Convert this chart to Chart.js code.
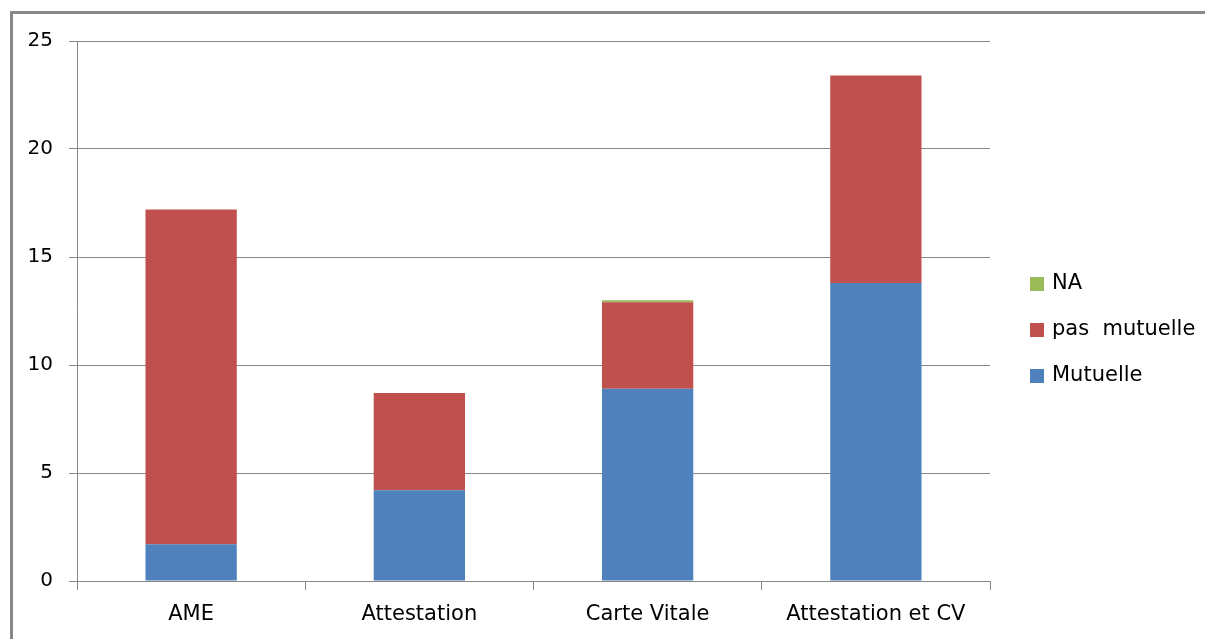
<!DOCTYPE html>
<html>
<head>
<meta charset="utf-8">
<script src="https://cdn.jsdelivr.net/npm/chart.js@4/dist/chart.umd.min.js"></script>
<style>
  body { margin: 0; background: #fff; }
  #wrap { position: relative; width: 1205px; height: 639px; overflow: hidden; }
  #frame { position: absolute; left: 10px; top: 11px; width: 1300px; height: 700px; border: 3px solid #878787; box-sizing: border-box; }
  canvas { position: absolute; left: 0; top: 0; }
</style>
</head>
<body>
<div id="wrap">
  <div id="frame"></div>
  <canvas id="chart" width="1205" height="639"></canvas>
</div>
<script>
const categories = ["AME", "Attestation", "Carte Vitale", "Attestation et CV"];
const mutuelle = [1.7, 4.2, 8.9, 13.8];
const pasMutuelle = [15.5, 4.5, 4.0, 9.6];
const na = [0, 0, 0.1, 0];
const yTicks = [0, 5, 10, 15, 20, 25];

const FONT = "'DejaVu Sans', sans-serif";
const GRID = "#868686";

// legend drawn by hand so the plot keeps its right edge
const sideLegend = {
  id: "sideLegend",
  afterDraw(chart) {
    const ctx = chart.ctx;
    const sets = chart.data.datasets.slice().reverse();
    ctx.save();
    ctx.font = "21px " + FONT;
    ctx.textBaseline = "middle";
    sets.forEach((ds, i) => {
      const y = 284 + i * 46;
      ctx.fillStyle = ds.backgroundColor;
      ctx.fillRect(1030, y - 7, 14, 14);
      ctx.fillStyle = "#000";
      ctx.fillText(ds.label, 1052, y);
    });
    ctx.restore();
  }
};

const ctx = document.getElementById("chart").getContext("2d");
new Chart(ctx, {
  type: "bar",
  data: {
    labels: categories,
    datasets: [
      { label: "Mutuelle", data: mutuelle, backgroundColor: "#4F81BD" },
      { label: "pas  mutuelle", data: pasMutuelle, backgroundColor: "#C0504D" },
      { label: "NA", data: na, backgroundColor: "#9BBB59" }
    ]
  },
  options: {
    responsive: false,
    animation: false,
    layout: { padding: { top: 41, right: 215, left: 0, bottom: 0 } },
    datasets: { bar: { categoryPercentage: 0.4, barPercentage: 1 } },
    plugins: { legend: { display: false }, tooltip: { enabled: false } },
    scales: {
      x: {
        stacked: true,
        afterFit: s => { s.height = 58; },
        grid: { drawOnChartArea: false, tickLength: 9, color: GRID },
        border: { color: GRID },
        ticks: { font: { family: FONT, size: 21 }, color: "#000", padding: 12, maxRotation: 0 }
      },
      y: {
        stacked: true,
        min: 0,
        max: 25,
        afterFit: s => { s.width = 77; },
        afterBuildTicks: s => { s.ticks = yTicks.map(v => ({ value: v })); },
        grid: { tickLength: 8, color: GRID },
        border: { color: GRID },
        ticks: { font: { family: FONT, size: 20 }, color: "#000", padding: 16 }
      }
    }
  },
  plugins: [sideLegend]
});
</script>
</body>
</html>
